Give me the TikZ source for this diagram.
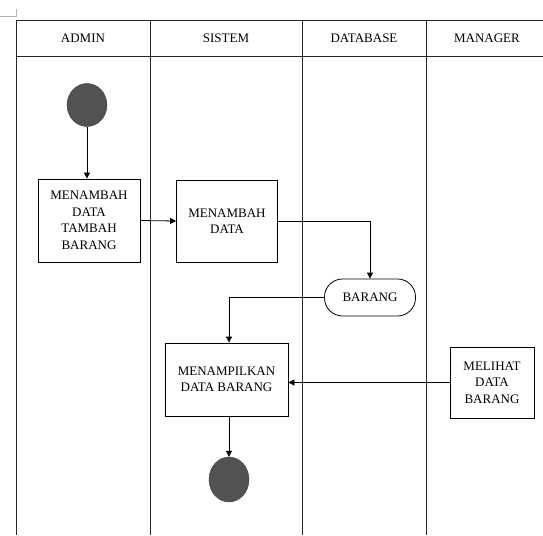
\documentclass[tikz,border=0pt]{standalone}
\usepackage{fontspec}
\setmainfont{Liberation Serif}
\usetikzlibrary{arrows.meta,shapes.geometric}
\begin{document}
\begin{tikzpicture}[x=1pt,y=-1pt,
  every node/.style={font=\fontsize{13}{16.5}\selectfont},
  lane/.style={line width=0.8pt,draw=black!85},
  act/.style={draw,line width=0.8pt,rectangle,align=center,inner sep=0pt},
  store/.style={draw,line width=0.8pt,rounded corners=18pt,align=center,inner sep=0pt},
  dot/.style={ellipse,fill=black!68,draw=black!75,line width=0.4pt,inner sep=0pt},
  flow/.style={line width=0.8pt,-{Triangle[length=6pt,width=6pt]}}]
\useasboundingbox (0,0) rectangle (543,535);
% corner marker
\draw[black!30,line width=0.6pt] (0,16.6) -- (16,16.6) -- (16,8.6);
% swimlane table
\draw[lane] (16,20) -- (543,20);
\draw[lane] (16,56) -- (543,56);
\foreach \xx in {16,150,302,426} \draw[lane] (\xx,20) -- (\xx,535);
\node (hA) at (83,38) {ADMIN};
\node (hS) at (226,38) {SISTEM};
\node (hD) at (364,38) {DATABASE};
\node (hM) at (487,38) {MANAGER};
% nodes
\node[dot,minimum width=40pt,minimum height=43pt] (start) at (87,105) {};
\node[act,minimum width=102pt,minimum height=83pt] (b1) at (89,220.5) {MENAMBAH\\DATA\\TAMBAH\\BARANG};
\node[act,minimum width=101pt,minimum height=82pt] (b2) at (227,221) {MENAMBAH\\DATA};
\node[store,minimum width=91pt,minimum height=37pt] (brg) at (370,297.5) {BARANG};
\node[act,minimum width=123pt,minimum height=73pt] (b3) at (226.5,379.5) {MENAMPILKAN\\DATA BARANG};
\node[act,minimum width=84pt,minimum height=71pt] (b4) at (492,382.5) {MELIHAT\\DATA\\BARANG};
\node[dot,minimum width=40pt,minimum height=45pt] (end) at (229,479.5) {};
% connectors
\draw[flow] (start.south) -- (start.south |- b1.north);
\draw[flow] (b1.east) -- (b2.west);
\draw[flow] (b2.east) -| (brg.north);
\draw[flow] (brg.west) -| (end.north |- b3.north);
\draw[flow] (b4.west) -- (b4.west -| b3.east);
\draw[flow] (end.north |- b3.south) -- (end.north);
\end{tikzpicture}
\end{document}
